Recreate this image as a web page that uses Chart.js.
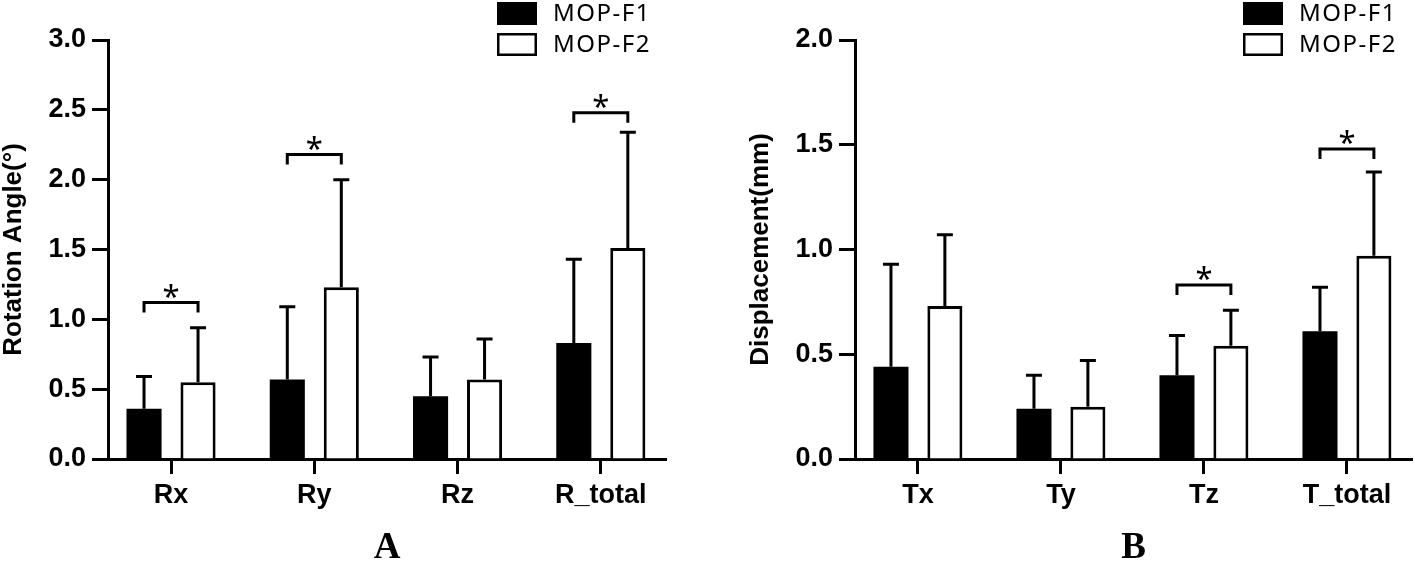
<!DOCTYPE html>
<html>
<head>
<meta charset="utf-8">
<title>MOP-F1 vs MOP-F2</title>
<script src="https://cdn.jsdelivr.net/npm/chart.js@4.4.1/dist/chart.umd.min.js"></script>
<style>
  body { margin: 0; background: #fff; }
  #wrap { display: flex; width: 1415px; height: 572px; }
  canvas { display: block; }
</style>
</head>
<body>
<div id="wrap">
  <canvas id="chartA" width="707" height="572"></canvas>
  <canvas id="chartB" width="708" height="572"></canvas>
</div>
<script>
const seriesNames = ["MOP-F1", "MOP-F2"];

// ---- A: rotation ----
const rotCategories = ["Rx", "Ry", "Rz", "R_total"];
const rotF1 = [0.36, 0.57, 0.45, 0.83];
const rotF1Sd = [0.23, 0.52, 0.28, 0.60];
const rotF2 = [0.55, 1.23, 0.57, 1.51];
const rotF2Sd = [0.39, 0.77, 0.29, 0.83];
const rotYTicks = [0, 0.5, 1.0, 1.5, 2.0, 2.5, 3.0];
const rotSigIndex = [0, 1, 3];
const rotSigHeight = [1.12, 2.18, 2.48];

// ---- B: displacement ----
const dispCategories = ["Tx", "Ty", "Tz", "T_total"];
const dispF1 = [0.44, 0.24, 0.40, 0.61];
const dispF1Sd = [0.49, 0.16, 0.19, 0.21];
const dispF2 = [0.73, 0.25, 0.54, 0.97];
const dispF2Sd = [0.34, 0.22, 0.17, 0.40];
const dispYTicks = [0, 0.5, 1.0, 1.5, 2.0];
const dispSigIndex = [2, 3];
const dispSigHeight = [0.83, 1.48];

const axisFont = { family: "'Liberation Sans', Arial, sans-serif", size: 27, weight: "bold" };

// upward-only error bars
const errorBars = {
  id: "errorBars",
  afterDatasetsDraw(chart) {
    const c = chart.ctx;
    const yScale = chart.scales.y;
    chart.data.datasets.forEach((ds, d) => {
      const meta = chart.getDatasetMeta(d);
      meta.data.forEach((bar, i) => {
        const top = yScale.getPixelForValue(ds.data[i].y + ds.sd[i]);
        c.save();
        c.strokeStyle = "#000";
        c.lineWidth = 3;
        c.beginPath();
        c.moveTo(bar.x, bar.y);
        c.lineTo(bar.x, top);
        c.moveTo(bar.x - 8, top);
        c.lineTo(bar.x + 8, top);
        c.stroke();
        c.restore();
      });
    });
  }
};

// significance brackets with asterisk
const sigMarks = (indexes, heights) => ({
  id: "sigMarks",
  afterDatasetsDraw(chart) {
    const c = chart.ctx;
    const yScale = chart.scales.y;
    const m1 = chart.getDatasetMeta(0);
    const m2 = chart.getDatasetMeta(1);
    indexes.forEach((idx, k) => {
      const x1 = m1.data[idx].x;
      const x2 = m2.data[idx].x;
      const y = yScale.getPixelForValue(heights[k]);
      c.save();
      c.strokeStyle = "#000";
      c.lineWidth = 3;
      c.beginPath();
      c.moveTo(x1, y + 10);
      c.lineTo(x1, y);
      c.lineTo(x2, y);
      c.lineTo(x2, y + 10);
      c.stroke();
      c.fillStyle = "#000";
      c.font = "31px 'Noto Sans'";
      c.textAlign = "center";
      c.textBaseline = "alphabetic";
      c.fillText("*", (x1 + x2) / 2, y + 4);
      c.restore();
    });
  }
});

// legend in the top right corner
const boxLegend = {
  id: "boxLegend",
  afterDraw(chart) {
    const c = chart.ctx;
    const x = chart.chartArea.right - 169;
    chart.data.datasets.forEach((ds, i) => {
      const y = 2 + i * 31;
      c.save();
      c.fillStyle = ds.backgroundColor;
      c.fillRect(x, y, 40, 23);
      c.lineWidth = 2.5;
      c.strokeStyle = "#000";
      c.strokeRect(x + 1.25, y + 1.25, 37.5, 20.5);
      c.fillStyle = "#000";
      c.font = "24px 'Noto Sans'";
      c.letterSpacing = "1.5px";
      c.textBaseline = "middle";
      c.fillText(ds.label, x + 56, y + 12);
      c.restore();
    });
  }
};

const makeChart = (id, set) => {
  const context = document.getElementById(id).getContext("2d");
  const toPoints = (vals) => vals.map((v, i) => ({ x: i, y: v }));
  return new Chart(context, {
    type: "bar",
    data: {
      datasets: [
        {
          label: seriesNames[0],
          data: toPoints(set.f1),
          sd: set.f1Sd,
          backgroundColor: "#000",
          borderWidth: 0,
          categoryPercentage: 0.754,
          barPercentage: 0.65
        },
        {
          label: seriesNames[1],
          data: toPoints(set.f2),
          sd: set.f2Sd,
          backgroundColor: "#fff",
          borderColor: "#000",
          borderWidth: 3,
          categoryPercentage: 0.754,
          barPercentage: 0.65
        }
      ]
    },
    options: {
      responsive: false,
      animation: false,
      devicePixelRatio: 1,
      layout: { padding: { top: 40, right: set.padRight, left: set.padLeft, bottom: 0 } },
      plugins: { legend: { display: false }, tooltip: { enabled: false } },
      scales: {
        x: {
          type: "linear",
          min: -0.44,
          max: 3.455,
          offset: false,
          z: 1,
          afterBuildTicks: (s) => { s.ticks = s.ticks.filter(t => Number.isInteger(t.value)); },
          afterFit: (s) => { s.height = 113; },
          ticks: {
            stepSize: 1,
            includeBounds: false,
            autoSkip: false,
            maxRotation: 0,
            color: "#000",
            font: axisFont,
            padding: 5,
            callback: (v) => set.categories[v]
          },
          grid: { offset: false, drawOnChartArea: false, tickLength: 15, tickWidth: 3, tickColor: "#000" },
          border: { display: true, color: "#000", width: 3 },
          title: {
            display: true,
            text: set.panel,
            color: "#000",
            font: { family: "'Liberation Serif', 'Times New Roman', serif", size: 37, weight: "bold", lineHeight: 1 },
            padding: { top: 0, bottom: 5 }
          }
        },
        y: {
          min: set.yTicks[0],
          max: set.yTicks[set.yTicks.length - 1],
          z: 1,
          afterFit: (s) => { s.width = 108; },
          ticks: {
            stepSize: set.yTicks[1] - set.yTicks[0],
            color: "#000",
            font: axisFont,
            padding: 6,
            callback: (v) => v.toFixed(1)
          },
          grid: { drawOnChartArea: false, tickLength: 16, tickWidth: 3, tickColor: "#000" },
          border: { display: true, color: "#000", width: 3 },
          title: {
            display: true,
            text: set.yTitle,
            color: "#000",
            font: { family: "'Liberation Sans', Arial, sans-serif", size: 26, weight: "bold", lineHeight: 1.1 },
            padding: { top: 0, bottom: 0 }
          }
        }
      }
    },
    plugins: [errorBars, sigMarks(set.sigIndex, set.sigHeight), boxLegend]
  });
};

makeChart("chartA", {
  categories: rotCategories, f1: rotF1, f1Sd: rotF1Sd, f2: rotF2, f2Sd: rotF2Sd,
  yTicks: rotYTicks, sigIndex: rotSigIndex, sigHeight: rotSigHeight,
  yTitle: "Rotation Angle(°)", panel: "A", padLeft: 0, padRight: 41
});
makeChart("chartB", {
  categories: dispCategories, f1: dispF1, f1Sd: dispF1Sd, f2: dispF2, f2Sd: dispF2Sd,
  yTicks: dispYTicks, sigIndex: dispSigIndex, sigHeight: dispSigHeight,
  yTitle: "Displacement(mm)", panel: "B", padLeft: 40, padRight: 3
});
</script>
</body>
</html>
